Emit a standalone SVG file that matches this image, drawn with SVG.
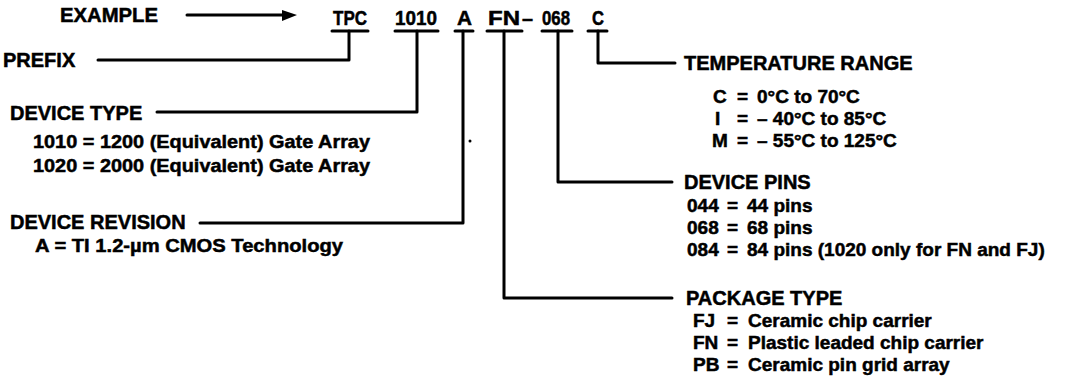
<svg xmlns="http://www.w3.org/2000/svg" width="1091" height="390" viewBox="0 0 1091 390">
<style>
text{font-family:"Liberation Sans",Arial,sans-serif;font-weight:bold;fill:#000;stroke:#000;stroke-width:0.5}
.h{font-size:20px}
.s{font-size:19px}
.c{font-size:20px}
.ln{fill:none;stroke:#000;stroke-width:3;stroke-linecap:round;stroke-linejoin:round}
</style>
<rect width="1091" height="390" fill="#fff"/>
<g id="example">
<text class="h" x="60" y="22" textLength="98" lengthAdjust="spacingAndGlyphs">EXAMPLE</text>
<line class="ln" x1="187" y1="15" x2="285" y2="15"/>
<polygon points="282,10 297,15 282,21" fill="#000"/>
</g>
<g id="code">
<text class="c" x="333" y="25" textLength="34" lengthAdjust="spacingAndGlyphs">TPC</text>
<text class="c" x="395" y="25" textLength="42" lengthAdjust="spacingAndGlyphs">1010</text>
<text class="c" x="457" y="25" textLength="15" lengthAdjust="spacingAndGlyphs">A</text>
<text class="c" x="488" y="25" textLength="32" lengthAdjust="spacingAndGlyphs">FN</text>
<text class="c" x="522" y="25" textLength="11" lengthAdjust="spacingAndGlyphs">–</text>
<text class="c" x="542" y="25" textLength="28" lengthAdjust="spacingAndGlyphs">068</text>
<text class="c" x="592" y="25" textLength="12" lengthAdjust="spacingAndGlyphs">C</text>
</g>
<g id="connectors">
<line class="ln" x1="332" y1="31" x2="368" y2="31"/>
<line class="ln" x1="395" y1="31" x2="438" y2="31"/>
<line class="ln" x1="455" y1="31" x2="473" y2="31"/>
<line class="ln" x1="487" y1="31" x2="522" y2="31"/>
<line class="ln" x1="542" y1="31" x2="572" y2="31"/>
<line class="ln" x1="588" y1="31" x2="607" y2="31"/>
<path class="ln" d="M349 31 V60 H98"/>
<path class="ln" d="M417 31 V112 H157"/>
<path class="ln" d="M463 31 V223 H200"/>
<path class="ln" d="M504 31 V298 H672"/>
<path class="ln" d="M558 31 V182 H672"/>
<path class="ln" d="M598 31 V63 H675"/>
</g>
<g id="prefix">
<text class="h" x="3" y="67">PREFIX</text>
</g>
<g id="device-type">
<text class="h" x="10" y="120">DEVICE TYPE</text>
<text class="s" x="33" y="148" textLength="337" lengthAdjust="spacingAndGlyphs">1010 = 1200 (Equivalent) Gate Array</text>
<text class="s" x="33" y="172" textLength="337" lengthAdjust="spacingAndGlyphs">1020 = 2000 (Equivalent) Gate Array</text>
</g>
<g id="device-revision">
<text class="h" x="10" y="229">DEVICE REVISION</text>
<text class="s" x="35" y="252" textLength="308" lengthAdjust="spacingAndGlyphs">A = TI 1.2-µm CMOS Technology</text>
</g>
<g id="temperature-range">
<text class="h" x="684" y="70">TEMPERATURE RANGE</text>
<text class="s" y="103"><tspan x="713">C</tspan><tspan x="737">=</tspan><tspan x="757">0°C to 70°C</tspan></text>
<text class="s" y="125"><tspan x="715">I</tspan><tspan x="737">=</tspan><tspan x="757">– 40°C to 85°C</tspan></text>
<text class="s" y="147"><tspan x="712">M</tspan><tspan x="737">=</tspan><tspan x="757">– 55°C to 125°C</tspan></text>
</g>
<g id="device-pins">
<text class="h" x="684" y="189">DEVICE PINS</text>
<text class="s" y="212"><tspan x="687">044</tspan><tspan x="727">=</tspan><tspan x="747">44 pins</tspan></text>
<text class="s" y="234"><tspan x="687">068</tspan><tspan x="727">=</tspan><tspan x="747">68 pins</tspan></text>
<text class="s" y="256"><tspan x="687">084</tspan><tspan x="727">=</tspan><tspan x="747">84 pins (1020 only for FN and FJ)</tspan></text>
</g>
<g id="package-type">
<text class="h" x="686" y="305">PACKAGE TYPE</text>
<text class="s" y="327"><tspan x="693">FJ</tspan><tspan x="727">=</tspan><tspan x="748">Ceramic chip carrier</tspan></text>
<text class="s" y="349"><tspan x="693">FN</tspan><tspan x="727">=</tspan><tspan x="748">Plastic leaded chip carrier</tspan></text>
<text class="s" y="371"><tspan x="693">PB</tspan><tspan x="727">=</tspan><tspan x="748">Ceramic pin grid array</tspan></text>
</g>
<circle cx="470" cy="141" r="1.5" fill="#000"/>
</svg>
